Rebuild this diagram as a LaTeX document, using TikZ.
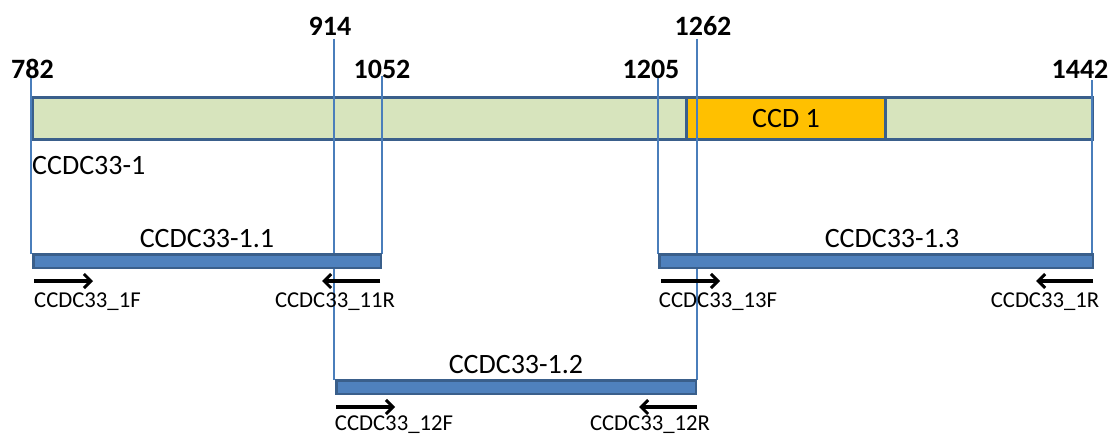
\documentclass[tikz,border=0pt]{standalone}
\usepackage{fontspec}
\setmainfont{Carlito}
\usetikzlibrary{arrows.meta}
\definecolor{bordblue}{HTML}{3A5F8B}
\definecolor{barblue}{HTML}{4F81BD}
\definecolor{lineblue}{HTML}{4A7EBB}
\definecolor{genegreen}{HTML}{D7E4BD}
\definecolor{ccdorange}{HTML}{FFC000}
\tikzset{
  numlbl/.style={inner sep=0pt, anchor=base, font=\fontsize{28}{30}\selectfont\bfseries},
  barlbl/.style={inner sep=0pt, anchor=base, font=\fontsize{28}{30}\selectfont},
  primlbl/.style={inner sep=0pt, anchor=base, font=\fontsize{22.7}{25}\selectfont},
  posline/.style={draw=lineblue, line width=1.5pt},
  pcr/.style={fill=barblue, draw=bordblue, line width=2.5pt},
  primer/.style={draw=black, line width=3.5pt, -{Straight Barb[length=7pt,width=14pt,line width=3pt]}},
}
\begin{document}
\begin{tikzpicture}[x=1pt,y=-1pt]
\useasboundingbox (0,0) rectangle (1113,436);
% position numbers
\node[numlbl] (n782) at (32.5,78) {782};
\node[numlbl] (n914) at (330,36) {914};
\node[numlbl] (n1052) at (382,78) {1052};
\node[numlbl] (n1205) at (651,78) {1205};
\node[numlbl] (n1262) at (703,36) {1262};
\node[numlbl] (n1442) at (1080,78) {1442};
% line end coordinates
\coordinate (t782) at (31,78);   \coordinate (b782) at (31,254);
\coordinate (t914) at (334,39);  \coordinate (b914) at (334,380);
\coordinate (t1052) at (382,76); \coordinate (b1052) at (382,254);
\coordinate (t1205) at (658,78); \coordinate (b1205) at (658,254);
\coordinate (t1262) at (697,39); \coordinate (b1262) at (697,380);
\coordinate (t1442) at (1092,80);\coordinate (b1442) at (1092,254);
\draw[posline] (t914) -- (b914);
\draw[posline] (t1262) -- (b1262);
% main gene bar
\draw[draw=bordblue, fill=genegreen, line width=3pt] (32.5,97.5) rectangle (1092.5,139.5);
\draw[draw=bordblue, fill=ccdorange, line width=3pt] (686.5,97.5) rectangle (885.5,139.5);
\node[barlbl, anchor=center] (ccd) at (786,118.5) {CCD 1};
\draw[posline] (t782) -- (b782);
\draw[posline] (t1052) -- (b1052);
\draw[posline] (t1205) -- (b1205);
\draw[posline] (t1442) -- (b1442);
\draw[posline] (697,96) -- (697,141);
\draw[posline] (334,96) -- (334,141);
\node[barlbl, anchor=base west] (gene) at (32,174) {CCDC33-1};
% PCR fragments
\draw[pcr] (33.25,254.25) rectangle (380.75,267.75);
\draw[pcr] (659.25,254.25) rectangle (1092.75,267.75);
\draw[pcr] (336.25,380.25) rectangle (695.75,393.75);
\draw[posline] (334,269) -- (334,300);
\draw[posline] (697,269) -- (697,300);
\node[barlbl] (f11) at (207,247) {CCDC33-1.1};
\node[barlbl] (f13) at (892,247) {CCDC33-1.3};
\node[barlbl] (f12) at (516,373) {CCDC33-1.2};
% primers
\coordinate (a1s) at (34,281);   \coordinate (a1e) at (93,281);
\coordinate (a11s) at (380,281); \coordinate (a11e) at (322,281);
\coordinate (a13s) at (661,281); \coordinate (a13e) at (720,281);
\coordinate (a1Rs) at (1093,281);\coordinate (a1Re) at (1036,281);
\coordinate (a12s) at (336,407); \coordinate (a12e) at (395,407);
\coordinate (a12Rs) at (697,407);\coordinate (a12Re) at (639,407);
\draw[primer] (a1s) -- (a1e);
\draw[primer] (a11s) -- (a11e);
\draw[primer] (a13s) -- (a13e);
\draw[primer] (a1Rs) -- (a1Re);
\draw[primer] (a12s) -- (a12e);
\draw[primer] (a12Rs) -- (a12Re);
\node[primlbl, anchor=base west] (p1F) at (34,307) {CCDC33\_1F};
\node[primlbl] (p11R) at (335,307) {CCDC33\_11R};
\node[primlbl] (p13F) at (718,307) {CCDC33\_13F};
\node[primlbl] (p1R) at (1045,307) {CCDC33\_1R};
\node[primlbl] (p12F) at (394,430) {CCDC33\_12F};
\node[primlbl] (p12R) at (650,430) {CCDC33\_12R};
\end{tikzpicture}
\end{document}
